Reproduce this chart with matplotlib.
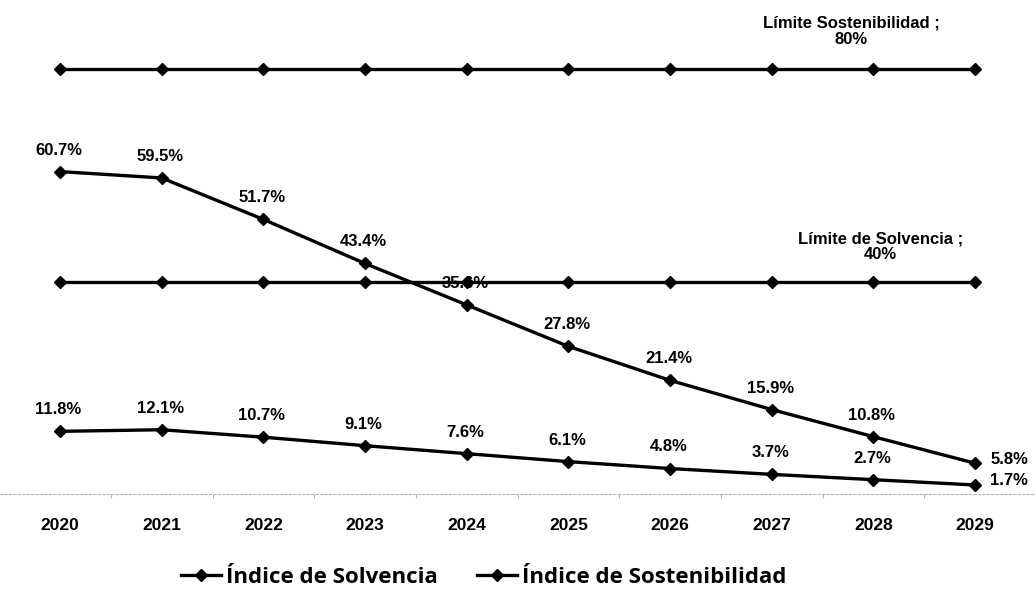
import numpy as np
import matplotlib
matplotlib.use("Agg")
import matplotlib.pyplot as plt
from matplotlib.lines import Line2D

# ── data ─────────────────────────────────────────────────────────────────────
years       = [2020, 2021, 2022, 2023, 2024, 2025, 2026, 2027, 2028, 2029]
solvencia   = [60.7, 59.5, 51.7, 43.4, 35.6, 27.8, 21.4, 15.9, 10.8, 5.8]
sostenib    = [11.8, 12.1, 10.7, 9.1, 7.6, 6.1, 4.8, 3.7, 2.7, 1.7]
lim_sost    = 80
lim_solv    = 40
series_names = ["Índice de Solvencia", "Índice de Sostenibilidad"]

LBL = dict(family="Liberation Sans", weight="bold", fontsize=12, color="black")

fig = plt.figure(figsize=(10.35, 5.92), dpi=100)
fig.patch.set_facecolor("white")
ax = fig.add_axes([0, 0.1655, 1, 0.8345])
ax.set_xlim(2020 - 60 / 101.67, 2020 + 975 / 101.67)
ax.set_ylim(0, 93)

line_kw = dict(color="black", lw=2.4, marker="D", ms=6.5, zorder=3)

ax.plot(years, [lim_sost] * len(years), **line_kw)
ax.plot(years, [lim_solv] * len(years), **line_kw)
ax.plot(years, solvencia, **line_kw)
ax.plot(years, sostenib, **line_kw)

# point labels above the marker, the last column goes to the right
def put_labels(vals):
    for i, (x, v) in enumerate(zip(years, vals)):
        txt = f"{v:.1f}%"
        if i == len(years) - 1:
            ax.annotate(txt, (x, v), xytext=(11, 3), textcoords="offset points",
                        ha="left", va="center", **LBL)
        else:
            ax.annotate(txt, (x, v), xytext=(-1, 15.5), textcoords="offset points",
                        ha="center", va="center", **LBL)

put_labels(solvencia)
put_labels(sostenib)

ax.annotate(f"Límite Sostenibilidad ;\n{lim_sost}%", (2027.78, lim_sost),
            xytext=(0, 27), textcoords="offset points", ha="center", va="center",
            linespacing=1.1, family="Liberation Sans", weight="bold",
            fontsize=12, color="black")
ax.annotate(f"Límite de Solvencia ;\n{lim_solv}%", (2028.07, lim_solv),
            xytext=(0, 25), textcoords="offset points", ha="center", va="center",
            linespacing=1.1, family="Liberation Sans", weight="bold",
            fontsize=12, color="black")

# axes: only a faint dotted baseline
for s in ["top", "left", "right"]:
    ax.spines[s].set_visible(False)
ax.spines["bottom"].set_linestyle((0, (2, 2)))
ax.spines["bottom"].set_color("#b4b4b4")
ax.spines["bottom"].set_linewidth(0.8)
ax.set_yticks([])
ax.set_xticks(years)
ax.set_xticklabels([str(y) for y in years], family="Liberation Sans",
                   weight="bold", fontsize=12.5)
ax.tick_params(axis="x", length=0, pad=17)
ax.set_xticks(np.arange(2020.5, 2029.5, 1), minor=True)
ax.tick_params(axis="x", which="minor", length=3, color="#b4b4b4", width=0.8)

# legend entries
for name, x0 in zip(series_names, [0.166, 0.452]):
    h = Line2D([], [], color="black", lw=2.4, marker="D", ms=6.5)
    fig.legend([h], [name], loc="center left", bbox_to_anchor=(x0, 0.025),
               frameon=False, handlelength=1.8, handletextpad=0.25,
               borderaxespad=0, prop=dict(family="Open Sans", weight="bold", size=16))

fig.savefig("out.png", dpi=100, facecolor="white")
